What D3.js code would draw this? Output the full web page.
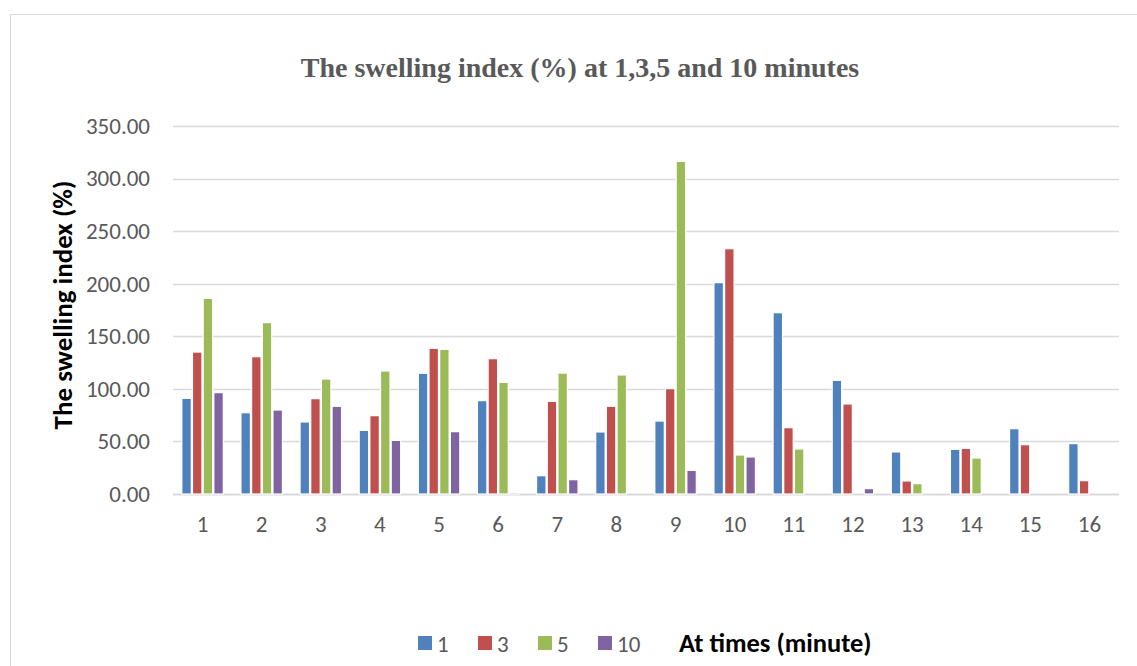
<!DOCTYPE html>
<html>
<head>
<meta charset="utf-8">
<script src="https://cdn.jsdelivr.net/npm/d3@7"></script>
<style>
  body { margin: 0; background: #fff; }
  svg text { font-family: Carlito, Calibri, Lato, sans-serif; }
</style>
</head>
<body>
<svg id="chart"></svg>
<script>
// categories (samples) and series (time in minutes)
var categories = ["1","2","3","4","5","6","7","8","9","10","11","12","13","14","15","16"];
var seriesNames = ["1","3","5","10"];
var seriesColors = ["#4F81BD","#C0504D","#9BBB59","#8064A2"];

// swelling index (%)
var min1  = [91.0, 77.3, 68.5, 60.5, 114.8, 88.8, 17.4, 59.0, 69.4, 201.0, 172.4, 108.1, 40.0, 42.5, 62.1, 47.9];
var min3  = [135.0, 130.6, 90.7, 74.5, 138.5, 128.7, 88.1, 83.4, 100.2, 233.3, 63.1, 85.6, 12.4, 43.4, 46.9, 12.7];
var min5  = [186.1, 163.0, 109.4, 117.0, 137.6, 106.2, 115.0, 113.2, 316.4, 37.1, 42.8, 0, 9.8, 34.2, 0, 0];
var min10 = [96.4, 79.9, 83.4, 51.0, 59.3, 1.3, 13.6, 0, 22.5, 35.2, 0, 5.1, 0, 0, 0, 0];

var yTicks = [0, 50, 100, 150, 200, 250, 300, 350];

var W = 1137, H = 666;
var margin = { top: 126, right: 18, bottom: 172, left: 173 };
var series = [min1, min3, min5, min10];

var svg = d3.select("#chart").attr("width", W).attr("height", H);

// outer chart border
svg.append("rect")
  .attr("x", 10.5).attr("y", 14.5)
  .attr("width", W + 10).attr("height", H + 10)
  .attr("fill", "#fff").attr("stroke", "#d9d9d9").attr("stroke-width", 1);

var plotW = W - margin.left - margin.right,
    plotH = H - margin.top - margin.bottom;

var g = svg.append("g").attr("transform", "translate(" + margin.left + "," + margin.top + ")");

var x0 = d3.scaleBand().domain(categories).range([0, plotW]).paddingInner(0.278).paddingOuter(0.139);
var x1 = d3.scaleBand().domain(seriesNames).range([0, x0.bandwidth()]).padding(0);
var y = d3.scaleLinear().domain([0, 350]).range([plotH, 0]);

// gridlines
g.append("g").selectAll("line")
  .data(yTicks)
  .enter().append("line")
  .attr("x1", 0).attr("x2", plotW)
  .attr("y1", function (d) { return Math.round(y(d)) + 0.5; })
  .attr("y2", function (d) { return Math.round(y(d)) + 0.5; })
  .attr("stroke", "#d9d9d9").attr("stroke-width", function (d) { return d === 0 ? 2 : 1.5; });

// y axis labels
var yAxis = d3.axisLeft(y).tickValues(yTicks).tickSize(0).tickPadding(23)
  .tickFormat(function (d) { return d3.format(".2f")(d); });
var ya = g.append("g").call(yAxis);
ya.select(".domain").remove();
ya.selectAll("text").attr("fill", "#595959").style("font-size", "23px");

// x axis labels
var xAxis = d3.axisBottom(x0).tickSize(0).tickPadding(22);
var xa = g.append("g").attr("transform", "translate(0," + plotH + ")").call(xAxis);
xa.select(".domain").remove();
xa.selectAll("text").attr("fill", "#595959").style("font-size", "23px");

// bars
var groups = g.selectAll(".grp")
  .data(categories)
  .enter().append("g")
  .attr("class", "grp")
  .attr("transform", function (d) { return "translate(" + x0(d) + ",0)"; });

groups.selectAll("rect")
  .data(function (d, i) {
    return seriesNames.map(function (s, k) { return { key: s, value: series[k][i], color: seriesColors[k] }; });
  })
  .enter().filter(function (d) { return d.value > 0; })
  .append("rect")
  .attr("x", function (d) { return x1(d.key) + 0.6; })
  .attr("width", x1.bandwidth() - 1.2)
  .attr("y", function (d) { return y(d.value); })
  .attr("height", function (d) { return y(0) - y(d.value); })
  .attr("fill", function (d) { return d.color; })
  .attr("stroke", "#fff").attr("stroke-width", 1.2);

// title
svg.append("text")
  .attr("x", 580).attr("y", 77)
  .attr("text-anchor", "middle")
  .style("font-family", "'Liberation Serif', 'Times New Roman', serif")
  .style("font-weight", "bold").style("font-size", "28px")
  .attr("fill", "#595959")
  .text("The swelling index (%) at 1,3,5 and 10 minutes");

// y axis title
svg.append("text")
  .attr("transform", "translate(72,305) rotate(-90)")
  .attr("text-anchor", "middle")
  .style("font-weight", "bold").style("font-size", "27px")
  .attr("fill", "#000")
  .text("The swelling index (%)");

// legend
var legendX = [418, 478, 538, 598];
var leg = svg.append("g");
seriesNames.forEach(function (s, k) {
  leg.append("rect")
    .attr("x", legendX[k]).attr("y", 636)
    .attr("width", 14).attr("height", 14)
    .attr("fill", seriesColors[k]);
  leg.append("text")
    .attr("x", legendX[k] + 19).attr("y", 652)
    .attr("fill", "#595959").style("font-size", "23px")
    .text(s);
});
leg.append("text")
  .attr("x", 679).attr("y", 652)
  .style("font-weight", "bold").style("font-size", "26.5px")
  .attr("fill", "#000")
  .text("At times (minute)");
</script>
</body>
</html>
